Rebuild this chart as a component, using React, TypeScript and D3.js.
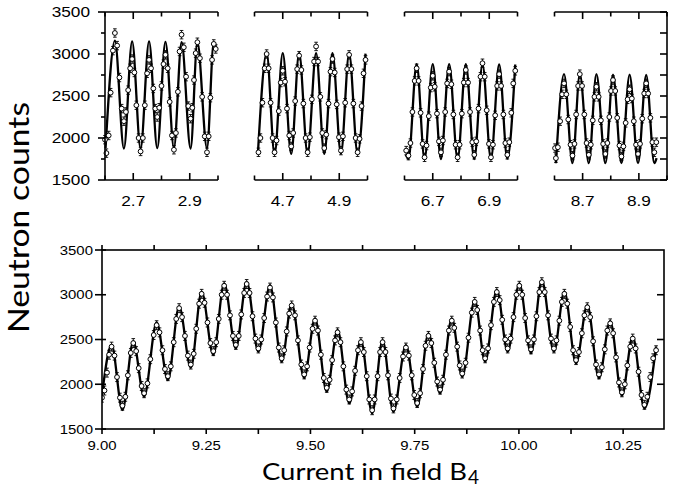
import React from "react";
import * as d3 from "d3";

// ---------------- data ----------------
const countMajor = [1500, 2000, 2500, 3000, 3500];
const countMinor = [1750, 2250, 2750, 3250];
const topDomains: [number, number][] = [[2.6, 3.0], [4.6, 5.0], [6.6, 7.0], [8.6, 9.0]];
const topTickLabels = [["2.7", "2.9"], ["4.7", "4.9"], ["6.7", "6.9"], ["8.7", "8.9"]];
const bottomDomain: [number, number] = [9.0, 10.348];
const bottomTickLabels = ["9.00", "9.25", "9.50", "9.75", "10.00", "10.25"];
const errBar = 50;

// fitted curve extrema (top panels)
const fit1X = [2.602, 2.635, 2.667, 2.696, 2.726, 2.756, 2.785, 2.814, 2.844, 2.871, 2.903, 2.927, 2.961, 2.985, 2.995];
const fit1Y = [1880, 3160, 1875, 3150, 1875, 3150, 1880, 3145, 1880, 3140, 1875, 3140, 1880, 3135, 3060];
const fit2X = [4.612, 4.643, 4.671, 4.700, 4.730, 4.758, 4.788, 4.818, 4.847, 4.876, 4.906, 4.935, 4.965, 4.993];
const fit2Y = [1810, 3010, 1810, 3010, 1810, 3010, 1810, 3010, 1810, 3010, 1815, 3005, 1815, 3005];
const fit3X = [6.605, 6.614, 6.643, 6.671, 6.700, 6.729, 6.758, 6.788, 6.817, 6.847, 6.876, 6.906, 6.935, 6.964, 6.992];
const fit3Y = [1800, 1750, 2880, 1750, 2880, 1750, 2880, 1750, 2880, 1750, 2875, 1750, 2875, 1755, 2875];
const fit4X = [8.605, 8.634, 8.664, 8.690, 8.722, 8.749, 8.781, 8.808, 8.838, 8.867, 8.897, 8.926, 8.955, 8.963];
const fit4Y = [1700, 2760, 1700, 2760, 1700, 2760, 1700, 2755, 1700, 2755, 1700, 2750, 1700, 1760];

// measured points (top panels)
const pts1: [number, number][] = [
  [2.600, 1980],
  [2.605, 1820], [2.613, 2030], [2.620, 2540], [2.628, 3040],
  [2.635, 3250], [2.643, 3100], [2.651, 2720], [2.659, 2350],
  [2.667, 2200], [2.674, 2310], [2.682, 2570], [2.689, 2830],
  [2.696, 2940], [2.704, 2780], [2.711, 2390], [2.719, 2000],
  [2.726, 1840], [2.734, 2000], [2.741, 2390], [2.749, 2770],
  [2.756, 2930], [2.763, 2830], [2.771, 2590], [2.778, 2350],
  [2.785, 2250], [2.792, 2360], [2.800, 2620], [2.807, 2880],
  [2.814, 2990], [2.822, 2830], [2.829, 2430], [2.837, 2030],
  [2.844, 1860], [2.851, 2060], [2.858, 2550], [2.864, 3030],
  [2.871, 3230], [2.879, 3080], [2.887, 2730], [2.895, 2380],
  [2.903, 2230], [2.909, 2360], [2.915, 2690], [2.921, 3010],
  [2.927, 3140], [2.936, 2950], [2.944, 2490], [2.953, 2020],
  [2.961, 1830], [2.967, 2020], [2.973, 2480], [2.979, 2930],
  [2.985, 3120], [2.992, 3060],
];
const pts2: [number, number][] = [
  [4.614, 1830], [4.621, 2000], [4.628, 2420], [4.636, 2830],
  [4.643, 3000], [4.650, 2830], [4.657, 2420], [4.664, 2000],
  [4.671, 1830], [4.678, 1970], [4.686, 2320], [4.693, 2660],
  [4.700, 2800], [4.708, 2670], [4.715, 2350], [4.723, 2030],
  [4.730, 1900], [4.737, 2060], [4.744, 2440], [4.751, 2820],
  [4.758, 2980], [4.766, 2810], [4.773, 2410], [4.781, 2000],
  [4.788, 1830], [4.796, 2010], [4.803, 2460], [4.811, 2910],
  [4.818, 3090], [4.825, 2910], [4.833, 2490], [4.840, 2060],
  [4.847, 1880], [4.854, 2040], [4.862, 2410], [4.869, 2790],
  [4.876, 2940], [4.884, 2780], [4.891, 2400], [4.899, 2010],
  [4.906, 1850], [4.913, 2020], [4.921, 2420], [4.928, 2820],
  [4.935, 2990], [4.943, 2820], [4.950, 2410], [4.958, 2000],
  [4.965, 1830], [4.972, 1990], [4.979, 2380], [4.986, 2770],
  [4.993, 2930],
];
const pts3: [number, number][] = [
  [6.606, 1850],
  [6.614, 1790], [6.621, 1940], [6.628, 2310], [6.636, 2680],
  [6.643, 2830], [6.650, 2680], [6.657, 2300], [6.664, 1930],
  [6.671, 1770], [6.678, 1910], [6.686, 2260], [6.693, 2600],
  [6.700, 2740], [6.707, 2610], [6.715, 2290], [6.722, 1960],
  [6.729, 1830], [6.736, 1970], [6.744, 2310], [6.751, 2650],
  [6.758, 2790], [6.766, 2640], [6.773, 2280], [6.781, 1920],
  [6.788, 1770], [6.795, 1920], [6.803, 2290], [6.810, 2660],
  [6.817, 2810], [6.825, 2660], [6.832, 2310], [6.840, 1950],
  [6.847, 1800], [6.854, 1960], [6.862, 2350], [6.869, 2730],
  [6.876, 2890], [6.884, 2730], [6.891, 2330], [6.899, 1930],
  [6.906, 1770], [6.913, 1920], [6.921, 2270], [6.928, 2620],
  [6.935, 2760], [6.942, 2620], [6.950, 2280], [6.957, 1940],
  [6.964, 1800], [6.971, 1950], [6.978, 2300], [6.985, 2650],
  [6.992, 2800],
];
const pts4: [number, number][] = [
  [8.602, 1880],
  [8.605, 1760], [8.612, 1890], [8.620, 2200], [8.627, 2520],
  [8.634, 2650], [8.642, 2520], [8.649, 2220], [8.657, 1920],
  [8.664, 1790], [8.671, 1930], [8.677, 2280], [8.684, 2620],
  [8.690, 2760], [8.698, 2620], [8.706, 2280], [8.714, 1940],
  [8.722, 1800], [8.729, 1920], [8.736, 2210], [8.742, 2490],
  [8.749, 2610], [8.757, 2490], [8.765, 2210], [8.773, 1930],
  [8.781, 1810], [8.788, 1940], [8.795, 2250], [8.801, 2560],
  [8.808, 2690], [8.816, 2560], [8.823, 2240], [8.831, 1910],
  [8.838, 1780], [8.845, 1900], [8.853, 2180], [8.860, 2460],
  [8.867, 2580], [8.875, 2470], [8.882, 2200], [8.890, 1920],
  [8.897, 1810], [8.904, 1930], [8.912, 2230], [8.919, 2530],
  [8.926, 2650], [8.933, 2530], [8.941, 2240], [8.948, 1950],
  [8.955, 1830], [8.962, 1950],
];

// bottom panel fit extrema
const bottomFitX = [9.000, 9.023, 9.049, 9.075, 9.101, 9.131, 9.158, 9.185, 9.213, 9.239, 9.267, 9.293, 9.321, 9.347, 9.375, 9.403, 9.431, 9.455, 9.485, 9.511, 9.539, 9.565, 9.593, 9.621, 9.648, 9.673, 9.699, 9.729, 9.756, 9.783, 9.811, 9.839, 9.864, 9.894, 9.919, 9.947, 9.973, 10.001, 10.029, 10.055, 10.084, 10.109, 10.137, 10.164, 10.192, 10.219, 10.247, 10.273, 10.301, 10.329];
const bottomFitY = [1880, 2440, 1712, 2480, 1861, 2690, 2047, 2870, 2185, 3034, 2327, 3127, 2401, 3145, 2364, 3108, 2252, 2904, 2070, 2737, 1917, 2606, 1786, 2494, 1675, 2494, 1693, 2438, 1749, 2568, 1899, 2737, 2084, 2941, 2252, 3053, 2364, 3127, 2345, 3164, 2364, 3034, 2234, 2885, 2066, 2706, 1872, 2531, 1731, 2420];

// bottom panel measured points
const bottomPts: [number, number][] = [
  [9.000, 1850], [9.006, 1930], [9.012, 2130], [9.017, 2330],
  [9.023, 2420], [9.030, 2320], [9.036, 2080], [9.043, 1850],
  [9.049, 1760], [9.056, 1860], [9.062, 2100], [9.069, 2350],
  [9.075, 2460], [9.082, 2370], [9.088, 2180], [9.095, 1980],
  [9.101, 1900], [9.109, 2010], [9.116, 2280], [9.124, 2550],
  [9.131, 2660], [9.138, 2580], [9.145, 2380], [9.151, 2170],
  [9.158, 2090], [9.165, 2200], [9.172, 2470], [9.178, 2730],
  [9.185, 2850], [9.192, 2750], [9.199, 2540], [9.206, 2320],
  [9.213, 2220], [9.220, 2340], [9.226, 2620], [9.233, 2900],
  [9.239, 3010], [9.246, 2910], [9.253, 2690], [9.260, 2460],
  [9.267, 2370], [9.274, 2470], [9.280, 2730], [9.287, 3000],
  [9.293, 3100], [9.300, 3000], [9.307, 2770], [9.314, 2540],
  [9.321, 2440], [9.328, 2540], [9.334, 2780], [9.341, 3020],
  [9.347, 3120], [9.354, 3020], [9.361, 2760], [9.368, 2510],
  [9.375, 2400], [9.382, 2500], [9.389, 2740], [9.396, 2980],
  [9.403, 3080], [9.410, 2970], [9.417, 2690], [9.424, 2410],
  [9.431, 2290], [9.437, 2380], [9.443, 2590], [9.449, 2790],
  [9.455, 2880], [9.463, 2770], [9.470, 2490], [9.478, 2220],
  [9.485, 2110], [9.492, 2200], [9.498, 2410], [9.505, 2620],
  [9.511, 2710], [9.518, 2600], [9.525, 2330], [9.532, 2070],
  [9.539, 1960], [9.546, 2050], [9.552, 2270], [9.559, 2490],
  [9.565, 2580], [9.572, 2470], [9.579, 2200], [9.586, 1940],
  [9.593, 1830], [9.600, 1920], [9.607, 2150], [9.614, 2380],
  [9.621, 2470], [9.628, 2360], [9.635, 2090], [9.641, 1830],
  [9.648, 1710], [9.654, 1830], [9.661, 2090], [9.667, 2360],
  [9.673, 2470], [9.680, 2360], [9.686, 2100], [9.693, 1840],
  [9.699, 1730], [9.707, 1830], [9.714, 2070], [9.722, 2310],
  [9.729, 2410], [9.736, 2320], [9.743, 2100], [9.749, 1880],
  [9.756, 1790], [9.763, 1900], [9.770, 2170], [9.776, 2430],
  [9.783, 2540], [9.790, 2460], [9.797, 2240], [9.804, 2030],
  [9.811, 1940], [9.818, 2050], [9.825, 2330], [9.832, 2600],
  [9.839, 2710], [9.845, 2630], [9.852, 2420], [9.858, 2210],
  [9.864, 2120], [9.872, 2240], [9.879, 2520], [9.887, 2800],
  [9.894, 2920], [9.900, 2830], [9.907, 2600], [9.913, 2380],
  [9.919, 2290], [9.926, 2400], [9.933, 2660], [9.940, 2920],
  [9.947, 3030], [9.954, 2940], [9.960, 2720], [9.967, 2500],
  [9.973, 2400], [9.980, 2510], [9.987, 2750], [9.994, 3000],
  [10.001, 3100], [10.008, 3000], [10.015, 2740], [10.022, 2490],
  [10.029, 2390], [10.036, 2500], [10.042, 2760], [10.049, 3030],
  [10.055, 3140], [10.062, 3030], [10.070, 2770], [10.077, 2510],
  [10.084, 2400], [10.090, 2490], [10.097, 2710], [10.103, 2920],
  [10.109, 3010], [10.116, 2900], [10.123, 2640], [10.130, 2380],
  [10.137, 2270], [10.144, 2360], [10.151, 2570], [10.157, 2770],
  [10.164, 2860], [10.171, 2750], [10.178, 2480], [10.185, 2220],
  [10.192, 2110], [10.199, 2190], [10.206, 2390], [10.212, 2600],
  [10.219, 2680], [10.226, 2570], [10.233, 2300], [10.240, 2020],
  [10.247, 1910], [10.254, 2000], [10.260, 2210], [10.267, 2420],
  [10.273, 2510], [10.280, 2400], [10.287, 2140], [10.294, 1880],
  [10.301, 1770], [10.308, 1860], [10.315, 2080], [10.322, 2290],
  [10.329, 2380],
];

const topFits = [
  { fx: fit1X, fy: fit1Y, pts: pts1 },
  { fx: fit2X, fy: fit2Y, pts: pts2 },
  { fx: fit3X, fy: fit3Y, pts: pts3 },
  { fx: fit4X, fy: fit4Y, pts: pts4 },
];

// ---------------- layout ----------------
const W = 675;
const H = 500;
const topPx: [number, number][] = [[105, 218], [254.5, 367.5], [404.5, 517.5], [554.5, 667]];
const TOP_BOTTOM = 180;
const TOP_TOP = 12;
const BOT_L = 102, BOT_R = 664, BOT_B = 429, BOT_T = 250;
const AX = 1.6;
const tickFont = "'Liberation Sans', Arial, Helvetica, sans-serif";
const titleFont = "Lato, 'Open Sans', sans-serif";
const STRETCH = 1.15;

type Sc = d3.ScaleLinear<number, number>;

function Series({ x, y, fx, fy, pts, errPx }: { x: Sc; y: Sc; fx: number[]; fy: number[]; pts: [number, number][]; errPx: number }) {
  const line = d3
    .line<number>()
    .x((d) => x(d))
    .y((_, i) => y(fy[i]))
    .curve(d3.curveMonotoneX);
  return (
    <g>
      <path d={line(fx) || ""} fill="none" stroke="#000" strokeWidth={2.3} />
      {pts.map(([px, py], i) => {
        const cx = x(px);
        const cy = y(py);
        const e = Math.abs(y(py + errBar) - cy);
        return (
          <g key={"e" + i} stroke="#000" strokeWidth={0.9}>
            <line x1={cx} x2={cx} y1={cy - e} y2={cy + e} />
            <line x1={cx - errPx} x2={cx + errPx} y1={cy - e} y2={cy - e} />
            <line x1={cx - errPx} x2={cx + errPx} y1={cy + e} y2={cy + e} />
          </g>
        );
      })}
      {pts.map(([px, py], i) => (
        <circle key={"c" + i} cx={x(px)} cy={y(py)} r={2.4} fill="#fff" stroke="#000" strokeWidth={1} />
      ))}
    </g>
  );
}

function SText({ x, y, size, anchor, children, dy }: { x: number; y: number; size: number; anchor: string; children: React.ReactNode; dy?: string }) {
  return (
    <text
      transform={`translate(${x},${y}) scale(${STRETCH},1)`}
      fontFamily={tickFont}
      fontSize={size}
      textAnchor={anchor as any}
      dy={dy}
      fill="#000"
    >
      {children}
    </text>
  );
}

export default function App() {
  const topY = d3.scaleLinear().domain([1500, 3500]).range([TOP_BOTTOM, TOP_TOP]);
  const botX = d3.scaleLinear().domain(bottomDomain).range([BOT_L, BOT_R]);
  const botY = d3.scaleLinear().domain([1500, 3500]).range([BOT_B, BOT_T]);
  const botTicks = d3.range(0, 11).map((k) => 9 + k * 0.125);

  return (
    <svg width={W} height={H} style={{ position: "absolute", left: 0, top: 0, background: "#fff" }}>
      <rect x={0} y={0} width={W} height={H} fill="#fff" />

      {/* ---------- top panels ---------- */}
      {topDomains.map((dom, pi) => {
        const x = d3.scaleLinear().domain(dom).range(topPx[pi]);
        const [l, r] = topPx[pi];
        const ticks = x.ticks(4);
        const clipId = `clipTop${pi}`;
        return (
          <g key={pi}>
            <defs>
              <clipPath id={clipId}>
                <rect x={l - 3} y={TOP_TOP} width={r - l + 6} height={TOP_BOTTOM - TOP_TOP} />
              </clipPath>
            </defs>
            <g clipPath={`url(#${clipId})`}>
              <Series x={x} y={topY} fx={topFits[pi].fx} fy={topFits[pi].fy} pts={topFits[pi].pts} errPx={1.8} />
            </g>
            <g stroke="#000" strokeWidth={AX} fill="none">
              <line x1={l} x2={r} y1={TOP_TOP} y2={TOP_TOP} />
              <line x1={l} x2={r} y1={TOP_BOTTOM} y2={TOP_BOTTOM} />
              {ticks.map((t, ti) => {
                const major = topTickLabels[pi].includes(t.toFixed(1));
                const len = major ? 7 : 4.5;
                return (
                  <g key={ti}>
                    <line x1={x(t)} x2={x(t)} y1={TOP_TOP} y2={TOP_TOP + len} />
                    <line x1={x(t)} x2={x(t)} y1={TOP_BOTTOM} y2={TOP_BOTTOM - len} />
                  </g>
                );
              })}
              {pi === 0 && (
                <g>
                  <line x1={l} x2={l} y1={TOP_TOP} y2={TOP_BOTTOM} />
                  {countMajor.map((c) => (
                    <line key={c} x1={l - 7} x2={l} y1={topY(c)} y2={topY(c)} />
                  ))}
                  {countMinor.map((c) => (
                    <line key={c} x1={l - 4} x2={l} y1={topY(c)} y2={topY(c)} />
                  ))}
                </g>
              )}
              {pi === 3 && (
                <g>
                  <line x1={r} x2={r} y1={TOP_TOP} y2={TOP_BOTTOM} />
                  {[...countMajor, ...countMinor].map((c) => (
                    <line key={c} x1={r - 7} x2={r} y1={topY(c)} y2={topY(c)} />
                  ))}
                </g>
              )}
            </g>
            {ticks
              .filter((t) => topTickLabels[pi].includes(t.toFixed(1)))
              .map((t) => (
                <SText key={t} x={x(t)} y={206} size={15} anchor="middle">
                  {t.toFixed(1)}
                </SText>
              ))}
            {pi === 0 &&
              countMajor.map((c) => (
                <SText key={c} x={90} y={topY(c)} size={15} anchor="end" dy="0.36em">
                  {c}
                </SText>
              ))}
          </g>
        );
      })}

      {/* ---------- bottom panel ---------- */}
      <defs>
        <clipPath id="clipBot">
          <rect x={BOT_L} y={BOT_T} width={BOT_R - BOT_L} height={BOT_B - BOT_T} />
        </clipPath>
      </defs>
      <g clipPath="url(#clipBot)">
        <Series x={botX} y={botY} fx={bottomFitX} fy={bottomFitY} pts={bottomPts} errPx={1.8} />
      </g>
      <g stroke="#000" strokeWidth={AX} fill="none">
        <rect x={BOT_L} y={BOT_T} width={BOT_R - BOT_L} height={BOT_B - BOT_T} />
        {botTicks.map((t, i) => (
          <g key={i}>
            <line x1={botX(t)} x2={botX(t)} y1={BOT_T} y2={BOT_T - 5} />
            <line x1={botX(t)} x2={botX(t)} y1={BOT_B} y2={BOT_B + 5} />
          </g>
        ))}
        {countMajor.map((c) => (
          <line key={c} x1={BOT_L - 7} x2={BOT_L + 4} y1={botY(c)} y2={botY(c)} />
        ))}
        {countMajor.slice(1, 4).map((c) => (
          <line key={"r" + c} x1={BOT_R - 7} x2={BOT_R} y1={botY(c)} y2={botY(c)} />
        ))}
      </g>
      {countMajor.map((c) => (
        <SText key={c} x={93} y={botY(c)} size={13} anchor="end" dy="0.36em">
          {c}
        </SText>
      ))}
      {bottomTickLabels.map((lab) => (
        <SText key={lab} x={botX(+lab)} y={450} size={13} anchor="middle">
          {lab}
        </SText>
      ))}

      {/* ---------- titles ---------- */}
      <text
        transform="translate(29,217.5) rotate(-90)"
        fontFamily={titleFont}
        fontSize={28}
        textAnchor="middle"
        textLength={231}
        lengthAdjust="spacingAndGlyphs"
        fill="#000"
      >
        Neutron counts
      </text>
      <text x={262} y={479.5} fontFamily={titleFont} fontSize={23} textLength={205} lengthAdjust="spacingAndGlyphs" fill="#000">
        Current in field B
      </text>
      <text x={468} y={484} fontFamily={titleFont} fontSize={19} fill="#000">
        4
      </text>
    </svg>
  );
}
